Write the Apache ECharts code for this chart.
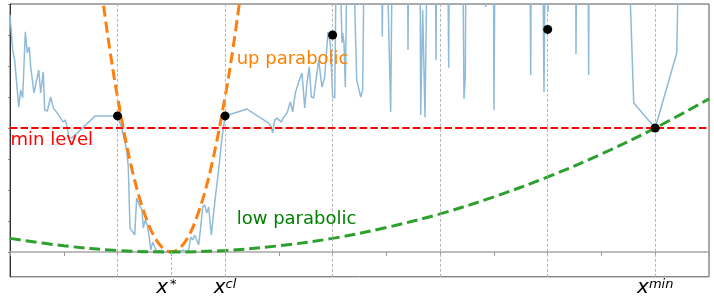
<!DOCTYPE html>
<html><head><meta charset="utf-8">
<script src="https://cdn.jsdelivr.net/npm/echarts@6/dist/echarts.min.js"></script>
<style>html,body{margin:0;padding:0;background:#fff}#c{width:714px;height:304px}</style>
</head><body><div id="c"></div>
<script>
// ---- data ----
const blueX = [0,0.05,0.087,0.162,0.199,0.236,0.285,0.322,0.359,0.385,0.446,0.497,0.534,0.571,0.619,0.645,0.694,0.757,0.805,0.880,0.930,0.967,0.991,1.028,1.066,1.092,1.153,1.586,2.0,
 2.077,2.170,2.200,2.232,2.269,2.319,2.356,2.405,2.455,2.479,2.516,2.553,2.591,2.617,2.654,2.691,2.728,2.790,2.851,2.944,3.007,3.100,3.223,3.316,3.361,3.398,3.435,3.472,3.509,3.547,3.584,3.621,3.658,3.695,3.744,3.813,3.874,3.937,4.0,
 4.408,4.811,4.860,4.886,4.923,4.966,5.046,5.090,5.152,5.213,5.258,5.306,5.369,5.431,5.481,5.523,5.566,5.604,5.648,5.691,5.741,5.802,5.853,5.914,5.957,6.001,6.039,6.07,6.13,6.174,6.187,6.212,6.236,6.273,6.38,6.448,6.485,6.522,6.559,6.589,
 6.91,6.924,6.94,7.006,7.080,7.110,7.393,7.402,7.415,7.625,7.638,7.675,7.718,7.761,7.91,7.923,7.936,
 8.14,8.159,8.17,8.42,8.443,8.468,8.48,8.83,8.847,8.86,8.99,9.001,9.02,9.67,9.684,9.695,9.907,9.931,9.956,9.99,10.005,10.02,10.52,10.526,10.54,10.75,10.762,10.77,11.5,11.60,12.0,12.40,12.44];
const blueY = [7.65,6.52,6.19,4.68,5.23,4.97,7.10,6.42,6.61,5.97,5.13,5.55,5.87,5.13,5.81,4.58,4.55,5.0,4.65,4.48,4.35,4.35,4.19,4.26,4.0,3.71,3.68,4.39,4.39,
 4.0,3.29,2.74,0.77,0.81,0.55,1.74,1.52,1.35,0.77,1.03,0.87,0.48,0.06,0.32,0.16,0.0,0.06,0.0,0.0,0.0,0.0,0.06,0.0,0.48,0.39,0.55,0.39,0.23,0.81,1.45,1.52,1.26,1.45,0.55,1.68,2.55,3.61,4.39,
 4.61,4.16,4.03,3.84,4.26,4.32,4.19,4.35,4.48,4.84,4.52,5.13,5.48,5.77,4.65,5.45,5.97,5.0,4.97,5.55,6.19,5.32,5.65,7.10,6.74,5.0,4.97,10,10,6.74,7.06,6.74,5.32,10,10,5.55,5.58,5.0,5.23,10,
 10,6.94,10,10,4.52,10,10,6.52,10,10,4.42,7.81,4.35,10,10,6.19,10,
 10,5.94,10,10,4.94,5.65,10,10,7.9,10,10,4.58,10,10,5.71,10,10,5.16,10,10,7.74,10,10,6.39,10,10,5.71,10,10,4.81,4.0,6.42,10];
const upX = [1.7,1.85,2.0,2.25,2.5,2.75,3.0,3.25,3.5,3.75,4.0,4.15,4.3];
const upY = [8.45,6.6,5.0,2.8,1.25,0.31,0,0.31,1.25,2.8,5.0,6.6,8.45];
const lowX = [0,1,2,3,4,5,6,7,8,9,10,11,12,13];
const lowY = [0.44,0.2,0.05,0,0.05,0.2,0.44,0.79,1.23,1.78,2.42,3.16,4.0,4.94];
const dotX = [2,4,6,10,12];
const dotY = [4.39,4.39,7.0,7.18,4.0];
const minLevel = 4;
const gridX = [2,4,6,8,10,12];
const starX = 3;
const xTickVals = [0,1,2,3,4,5,6,7,8,9,10,11,12,13];
const yTickVals = [0,1,2,3,4,5,6,7,8];
const xLabelVals = [3,4,12];
const xLabelSup = {3:'*',4:'cl',12:'min'};

const zip = (a,b)=>a.map((v,i)=>[v,b[i]]);
const F = 'DejaVu Sans';
const chart = echarts.init(document.getElementById('c'), null, {renderer:'canvas'});
chart.setOption({
  animation:false,
  grid:{left:10,right:5,top:4,bottom:27.2,show:true,borderColor:'#555',borderWidth:1,backgroundColor:'transparent'},
  xAxis:{type:'value',min:0,max:13,
    axisLine:{show:true,lineStyle:{color:'#a8a8a8',width:1.5}},
    axisTick:{show:true,customValues:xTickVals,length:4,lineStyle:{color:'#999',width:1}},
    axisLabel:{show:true,customValues:xLabelVals,margin:1,
      formatter:v=>'{x|x}{' + (v===starX?'t':'s') + '|'+xLabelSup[v]+'}',
      rich:{x:{fontFamily:F,fontStyle:'italic',fontSize:20,lineHeight:20,color:'#000',verticalAlign:'bottom'},
            s:{fontFamily:F,fontStyle:'italic',fontSize:13,lineHeight:9,color:'#000',verticalAlign:'top'},
            t:{fontFamily:F,fontSize:13,lineHeight:9,color:'#000',verticalAlign:'top',padding:[0,10,0,2]}}},
    splitLine:{show:false}},
  yAxis:{type:'value',min:-0.8,max:8,
    axisLine:{show:true,lineStyle:{color:'#333',width:1}},
    axisTick:{show:true,customValues:yTickVals,length:2,lineStyle:{color:'#888'}},
    axisLabel:{show:false},splitLine:{show:false}},
  series:[
    {type:'line',name:'guides',data:[],silent:true,
     markLine:{silent:true,symbol:'none',label:{show:false},animation:false,
       lineStyle:{type:[3,2],color:'#b5b5b5',width:1},
       data:[...gridX.map(v=>({xAxis:v})),
             [{coord:[starX,0]},{coord:[starX,-0.8]}]]}},
    {type:'line',name:'signal',data:zip(blueX,blueY),showSymbol:false,symbol:'none',clip:true,
     lineStyle:{color:'#8fbbd9',width:1.5},z:2},
    {type:'line',name:'min',data:[[0,minLevel],[13,minLevel]],showSymbol:false,symbol:'none',
     lineStyle:{color:'#ff0000',width:2,type:[7.4,3.2]},z:3},
    {type:'line',name:'up',data:zip(upX,upY),showSymbol:false,symbol:'none',smooth:0.35,clip:true,
     lineStyle:{color:'#ff7f0e',width:3,type:[11,5]},z:4},
    {type:'line',name:'low',data:zip(lowX,lowY),showSymbol:false,symbol:'none',smooth:0.35,clip:true,
     lineStyle:{color:'#2ca02c',width:3,type:[11,5]},z:4},
    {type:'scatter',name:'dots',data:zip(dotX,dotY),symbolSize:9,itemStyle:{color:'#000',opacity:1},z:6},
    {type:'scatter',name:'text',symbolSize:0,z:5,silent:true,itemStyle:{opacity:1},
     data:[
       {value:[0.01,3.6],label:{formatter:'min level',color:'#ff0000'}},
       {value:[4.216,6.2],label:{formatter:'up parabolic',color:'#ff8000'}},
       {value:[4.216,1.04],label:{formatter:'low parabolic',color:'#008000'}}],
     label:{show:true,position:[0,0],align:'left',verticalAlign:'middle',fontFamily:F,fontSize:18,opacity:1}}
  ]
});
</script></body></html>
